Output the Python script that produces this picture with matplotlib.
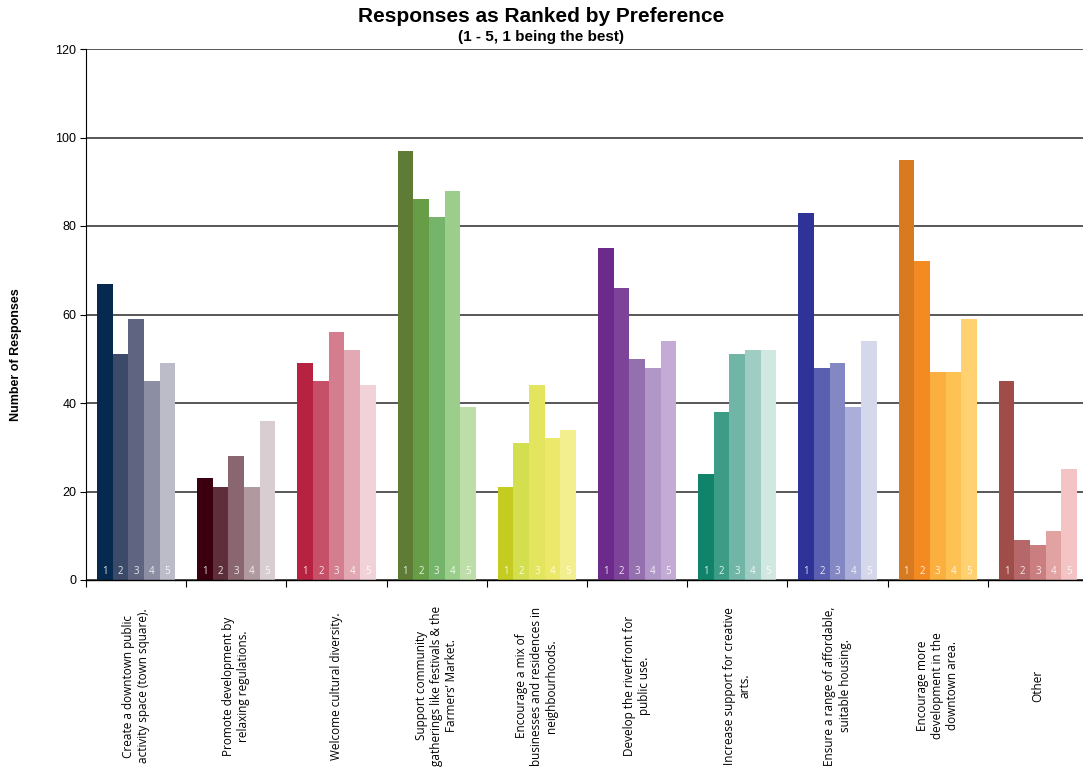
import numpy as np
import matplotlib.pyplot as plt

categories = [
    "Create a downtown public\nactivity space (town square).",
    "Promote development by\nrelaxing regulations.",
    "Welcome cultural diversity.",
    "Support community\ngatherings like festivals & the\nFarmers\u2019 Market.",
    "Encourage a mix of\nbusinesses and residences in\nneighbourhoods.",
    "Develop the riverfront for\npublic use.",
    "Increase support for creative\narts.",
    "Ensure a range of affordable,\nsuitable housing.",
    "Encourage more\ndevelopment in the\ndowntown area.",
    "Other",
]
ranks = ["1", "2", "3", "4", "5"]

# responses per rank (1..5) for each category
values = [
    [67, 51, 59, 45, 49],
    [23, 21, 28, 21, 36],
    [49, 45, 56, 52, 44],
    [97, 86, 82, 88, 39],
    [21, 31, 44, 32, 34],
    [75, 66, 50, 48, 54],
    [24, 38, 51, 52, 52],
    [83, 48, 49, 39, 54],
    [95, 72, 47, 47, 59],
    [45, 9, 8, 11, 25],
]

colors = [
    ["#062a4f", "#3b4a68", "#5f6580", "#8c8ea4", "#bcbcc9"],
    ["#3b0010", "#5e2f3a", "#8a6670", "#b09aa0", "#d8cdd0"],
    ["#b82241", "#c65068", "#d47d8f", "#e2a8b4", "#f0d2d8"],
    ["#5e7c35", "#679d46", "#74b46b", "#9ace8a", "#bddea8"],
    ["#c4cc22", "#d4df50", "#e2e55d", "#ece96a", "#f4ef8e"],
    ["#6c2a8a", "#7d4398", "#9470af", "#b097c8", "#c4abd6"],
    ["#10836a", "#3d9c85", "#70b5a6", "#a0cdc3", "#d1e8e1"],
    ["#2f3398", "#5a5fb0", "#8387c4", "#aaaed8", "#d5d7ea"],
    ["#d87a1f", "#f48a22", "#fbaf3f", "#fdc253", "#ffd170"],
    ["#a04d4a", "#b5676a", "#cb7e7f", "#e1a2a1", "#f4c4c5"],
]

W, H = 1083, 774
fig = plt.figure(figsize=(W / 100, H / 100), dpi=100)
ax = fig.add_axes([86 / W, 1 - 580 / H, 1002 / W, 531 / H])

bw = 0.156
for i, (vals, cols) in enumerate(zip(values, colors)):
    for j, (v, c) in enumerate(zip(vals, cols)):
        x = i + 0.11 + j * bw
        ax.bar(x, v, width=bw, align='edge', color=c, zorder=2, linewidth=0)
        ax.text(x + bw / 2, 1.9, ranks[j], color='white', alpha=0.85,
                fontsize=7, ha='center', va='center', zorder=3,
                family='Open Sans')

ax.set_xlim(0, 10)
ax.set_ylim(0, 120)
ax.set_yticks(np.arange(0, 121, 20))
ax.yaxis.grid(True, color='#2a2a2a', linewidth=1.1, zorder=0)
ax.set_axisbelow(True)
for lbl in ax.get_yticklabels():
    lbl.set_family('Liberation Sans')
    lbl.set_fontsize(9)
ax.tick_params(axis='y', length=4, width=0.8, pad=3)

ax.set_xticks(np.arange(0, 10))
ax.set_xticklabels([])
ax.tick_params(axis='x', length=5, width=0.8, direction='out')
for s in ['top', 'right']:
    ax.spines[s].set_visible(False)
ax.spines['left'].set_linewidth(0.8)
ax.spines['bottom'].set_linewidth(1.0)

# category labels, rotated, centred ~106 px below the axis
label_y = -120 * (686 - 580) / 531
for i, lab in enumerate(categories):
    ax.text(i + 0.5, label_y, lab, rotation=90, ha='center', va='center',
            multialignment='center', fontsize=8.5, family='Open Sans',
            clip_on=False)

fig.text(0.5, 1 - 17 / H, "Responses as Ranked by Preference", ha='center',
         va='center', fontsize=15, fontweight='bold', family='Liberation Sans')
fig.text(0.5, 1 - 37 / H, "(1 - 5, 1 being the best)", ha='center',
         va='center', fontsize=11, fontweight='bold', family='Liberation Sans')
fig.text(16 / W, 1 - 355 / H, "Number of Responses", rotation=90, ha='center',
         va='center', fontsize=9, fontweight='bold', family='Liberation Sans')

fig.savefig('out.png', dpi=100)
